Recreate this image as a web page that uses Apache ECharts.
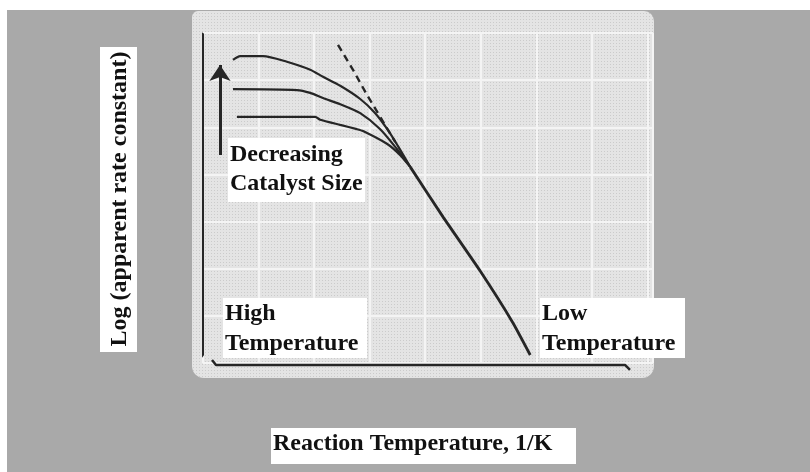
<!DOCTYPE html>
<html>
<head>
<meta charset="utf-8">
<script src="https://cdn.jsdelivr.net/npm/echarts@6/dist/echarts.min.js"></script>
<style>html,body{margin:0;padding:0;background:#fff}#c{width:810px;height:472px}</style>
</head>
<body>
<div id="c"></div>
<script>
// Schematic Arrhenius-type curves (x: 1/T, y: log k), in axis units
const curveSmallestCatalyst = [[0.54,6.43],[0.67,6.51],[1.08,6.51],[1.51,6.39],[1.93,6.22],[2.16,6.07],[2.47,5.88],[2.83,5.60],[3.10,5.30],[3.33,4.94],[3.51,4.60],[3.73,4.16]];
const curveMediumCatalyst   = [[0.54,5.81],[1.69,5.79],[1.93,5.73],[2.16,5.62],[2.47,5.49],[2.83,5.30],[3.19,4.96],[3.49,4.54],[3.73,4.16]];
const curveLargestCatalyst  = [[0.61,5.22],[2.02,5.22],[2.11,5.16],[2.47,5.05],[2.77,4.96],[2.88,4.92],[3.31,4.65],[3.55,4.41],[3.73,4.16]];
const kineticLine           = [[3.73,4.16],[4.32,3.10],[4.99,1.95],[5.58,0.85],[5.89,0.17]];
const kineticExtrapolation  = [[2.43,6.75],[2.70,6.22],[2.95,5.69],[3.20,5.20],[3.46,4.69]];
const arrowLine             = [[0.306,4.41],[0.306,6.32]];
const yBracket              = [[-0.09,7.02],[0,6.98],[0,0.17],[-0.072,0.064]];
const xBracket              = [[0.162,0.064],[0.234,-0.042],[7.596,-0.042],[7.686,-0.148]];
const xAxisName = 'Reaction Temperature, 1/K';
const yAxisName = 'Log (apparent rate constant)';
const boxTexts = { size: ['Decreasing', 'Catalyst Size'], high: ['High', 'Temperature'], low: ['Low', 'Temperature'] };

const chart = echarts.init(document.getElementById('c'));

const pc = document.createElement('canvas');
pc.width = 3; pc.height = 3;
const g = pc.getContext('2d');
g.fillStyle = '#e4e4e4'; g.fillRect(0,0,3,3);
g.fillStyle = '#cbcbcb'; g.fillRect(1,1,1,1);

const FONT = 'bold 24px "Liberation Serif"';
function box(x, y, w, h, lines, tx, baselines) {
  const els = [{ type:'rect', shape:{x, y, width:w, height:h}, style:{fill:'#fff'}, z:100 }];
  lines.forEach((t, i) => els.push({ type:'text', x:tx, y:baselines[i]-8, z:101,
    style:{ text:t, font:FONT, fill:'#111', align:'left', verticalAlign:'middle' } }));
  return els;
}

const curveStyle = { color:'#262626', width:2.2 };
function curve(name, pts, sm) {
  return { name, type:'line', data: pts, showSymbol:false, symbol:'none',
    smooth:sm, lineStyle:curveStyle, z:5, silent:true };
}

chart.setOption({
  animation:false,
  backgroundColor:'#a9a9a9',
  grid:{ left:203, top:33, width:450, height:330 },
  xAxis:{ type:'value', min:0, max:8.1, interval:1, axisLine:{show:false}, axisTick:{show:false}, axisLabel:{show:false},
    splitLine:{ lineStyle:{ color:'#f4f4f4', width:2 } } },
  yAxis:{ type:'value', min:0, max:7, interval:1, axisLine:{show:false}, axisTick:{show:false}, axisLabel:{show:false},
    splitLine:{ lineStyle:{ color:'#f4f4f4', width:2 } } },
  graphic:[
    { type:'rect', shape:{x:0,y:0,width:810,height:10}, style:{fill:'#ffffff'}, z:-20 },
    { type:'rect', shape:{x:0,y:0,width:7,height:472}, style:{fill:'#ffffff'}, z:-20 },
    { type:'rect', shape:{x:192,y:11,width:462,height:367,r:[6,10,12,12]}, style:{fill:{image:pc, repeat:'repeat'}}, z:-10 },
    ...box(228,138,137,64, boxTexts.size, 230, [163,192]),
    ...box(223,298,144,60, boxTexts.high, 225, [322,352]),
    ...box(540,298,145,60, boxTexts.low, 542, [322,352]),
    ...box(271,428,305,36, [xAxisName], 273, [452]),
    { type:'rect', shape:{x:100,y:47,width:37,height:305}, style:{fill:'#fff'}, z:100 },
    { type:'text', x:120, y:199, rotation:Math.PI/2, z:101,
      style:{ text:yAxisName, font:FONT, fill:'#111', align:'center', verticalAlign:'middle' } }
  ],
  series:[
    curve('smallest', curveSmallestCatalyst, 0.25),
    curve('medium', curveMediumCatalyst, 0.25),
    curve('largest', curveLargestCatalyst, 0.2),
    { name:'kinetic', type:'line', data:kineticLine, symbol:'none', smooth:0.15,
      lineStyle:{ color:'#262626', width:2.8 }, z:5, silent:true },
    { name:'extrapolation', type:'line', data:kineticExtrapolation, symbol:'none', smooth:false,
      lineStyle:{ color:'#262626', width:2.4, type:[7,5] }, z:5, silent:true },
    { name:'yBracket', type:'line', data:yBracket, symbol:'none', clip:false, lineStyle:{color:'#262626', width:2}, z:6, silent:true },
    { name:'xBracket', type:'line', data:xBracket, symbol:'none', clip:false, lineStyle:{color:'#262626', width:2.5}, z:6, silent:true },
    { name:'arrow', type:'lines', coordinateSystem:'cartesian2d', symbol:['none','arrow'], symbolSize:[14,16],
      lineStyle:{ color:'#262626', width:3, opacity:1 }, data:[{ coords: arrowLine }], z:6, silent:true }
  ]
});
</script>
</body>
</html>
